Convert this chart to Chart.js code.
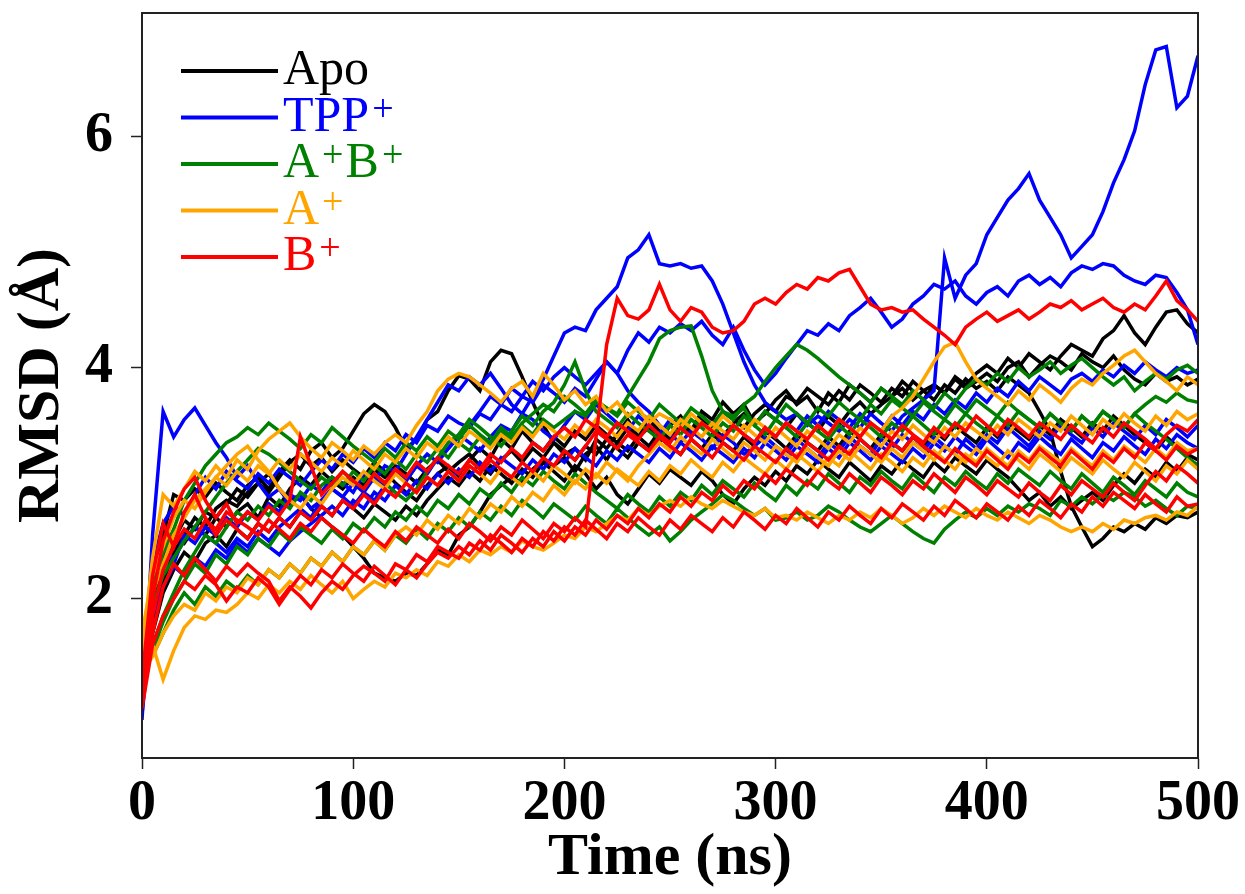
<!DOCTYPE html>
<html>
<head>
<meta charset="utf-8">
<script src="https://cdn.jsdelivr.net/npm/chart.js@4.4.1/dist/chart.umd.min.js"></script>
<style>
  html, body { margin: 0; padding: 0; background: #fff; }
  #wrap { width: 1245px; height: 894px; }
</style>
</head>
<body>
<div id="wrap"><canvas id="rmsd" width="1245" height="894"></canvas></div>
<script>
// time axis (ns), one frame every 5 ns
const TIME = [
  0, 5, 10, 15, 20, 25, 30, 35, 40, 45,
  50, 55, 60, 65, 70, 75, 80, 85, 90, 95,
  100, 105, 110, 115, 120, 125, 130, 135, 140, 145,
  150, 155, 160, 165, 170, 175, 180, 185, 190, 195,
  200, 205, 210, 215, 220, 225, 230, 235, 240, 245,
  250, 255, 260, 265, 270, 275, 280, 285, 290, 295,
  300, 305, 310, 315, 320, 325, 330, 335, 340, 345,
  350, 355, 360, 365, 370, 375, 380, 385, 390, 395,
  400, 405, 410, 415, 420, 425, 430, 435, 440, 445,
  450, 455, 460, 465, 470, 475, 480, 485, 490, 495,
  500
];

const X_TICKS = [0, 100, 200, 300, 400, 500];
const Y_TICKS = [2, 4, 6];

// Apo runs
const apo1 = [
  1.30, 2.10, 2.55, 2.90, 2.85, 2.95, 2.88, 3.00, 2.92, 2.85,
  2.98, 3.05, 2.95, 3.10, 3.20, 3.12, 3.28, 3.35, 3.22, 3.30,
  3.45, 3.60, 3.68, 3.62, 3.48, 3.30, 3.38, 3.55, 3.62, 3.80,
  3.93, 3.90, 3.80, 4.05, 4.15, 4.12, 3.92, 3.70, 3.50, 3.35,
  3.25, 3.30, 3.20, 3.38, 3.30, 3.42, 3.55, 3.40, 3.48, 3.35,
  3.50, 3.58, 3.45, 3.62, 3.55, 3.70, 3.60, 3.68, 3.52, 3.60,
  3.72, 3.80, 3.68, 3.75, 3.62, 3.78, 3.70, 3.85, 3.78, 3.70,
  3.82, 3.75, 3.88, 3.80, 3.72, 3.85, 3.78, 3.92, 3.85, 3.95,
  4.02, 3.95, 4.08, 4.00, 4.12, 4.05, 3.98, 4.10, 4.20, 4.15,
  4.10, 4.25, 4.32, 4.45, 4.30, 4.20, 4.35, 4.48, 4.50, 4.38,
  4.30
];
const apo2 = [
  1.20, 1.75, 2.15, 2.40, 2.55, 2.70, 2.62, 2.78, 2.85, 2.80,
  2.92, 3.00, 3.08, 2.95, 2.85, 2.90, 2.78, 2.70, 2.62, 2.55,
  2.45, 2.35, 2.22, 2.18, 2.15, 2.22, 2.20, 2.30, 2.42, 2.38,
  2.55, 2.62, 2.75, 2.90, 2.98, 3.05, 3.00, 3.12, 3.20, 3.15,
  3.22, 3.10, 3.25, 3.32, 3.20, 3.35, 3.28, 3.40, 3.32, 3.45,
  3.38, 3.50, 3.42, 3.55, 3.48, 3.40, 3.52, 3.60, 3.50, 3.62,
  3.55, 3.48, 3.60, 3.52, 3.45, 3.58, 3.50, 3.62, 3.70, 3.60,
  3.68, 3.75, 3.82, 3.72, 3.80, 3.85, 3.78, 3.90, 3.82, 3.88,
  3.95, 3.88, 4.00, 4.05, 3.92, 4.02, 4.10, 4.05, 3.98, 4.12,
  4.05, 4.00, 4.10, 3.98, 3.90, 3.85, 3.95, 3.88, 3.92, 3.85,
  3.90
];
const apo3 = [
  1.10, 1.85, 2.30, 2.50, 2.68, 2.60, 2.75, 2.70, 2.82, 2.95,
  2.88, 3.00, 2.92, 3.05, 3.18, 3.25, 3.15, 3.22, 3.10, 3.20,
  3.12, 3.05, 3.18, 3.10, 3.00, 2.92, 2.85, 2.98, 3.08, 3.15,
  3.05, 3.20, 3.30, 3.22, 3.38, 3.30, 3.45, 3.35, 3.28, 3.40,
  3.32, 3.45, 3.38, 3.50, 3.42, 3.35, 3.48, 3.40, 3.55, 3.45,
  3.38, 3.52, 3.45, 3.58, 3.50, 3.62, 3.55, 3.48, 3.60, 3.68,
  3.62, 3.75, 3.70, 3.82, 3.75, 3.68, 3.80, 3.72, 3.85, 3.78,
  3.70, 3.82, 3.75, 3.88, 3.80, 3.72, 3.85, 3.78, 3.90, 3.82,
  3.88, 3.80, 3.92, 3.85, 3.78, 3.62, 3.45, 3.10, 2.80, 2.62,
  2.45, 2.52, 2.62, 2.58, 2.65, 2.60, 2.70, 2.65, 2.72, 2.70,
  2.75
];
const apo4 = [
  1.40, 2.00, 2.35, 2.55, 2.48, 2.62, 2.55, 2.70, 2.62, 2.75,
  2.82, 2.70, 2.88, 2.80, 2.95, 3.05, 2.98, 3.10, 3.02, 2.95,
  3.05, 2.98, 3.12, 3.05, 3.15, 3.08, 3.00, 3.12, 3.20, 3.10,
  3.18, 3.25, 3.15, 3.08, 3.20, 3.28, 3.18, 3.30, 3.22, 3.35,
  3.28, 3.20, 3.32, 3.25, 3.38, 3.30, 3.22, 3.35, 3.28, 3.40,
  3.32, 3.25, 3.38, 3.30, 3.42, 3.35, 3.28, 3.40, 3.32, 3.45,
  3.38, 3.30, 3.42, 3.35, 3.28, 3.40, 3.32, 3.45, 3.38, 3.30,
  3.42, 3.35, 3.28, 3.40, 3.32, 3.45, 3.38, 3.50, 3.42, 3.35,
  3.48, 3.40, 3.52, 3.45, 3.38, 3.50, 3.42, 3.55, 3.48, 3.40,
  3.52, 3.45, 3.58, 3.50, 3.42, 3.35, 3.28, 3.40, 3.32, 3.25,
  3.20
];
const apo5 = [
  1.25, 1.70, 2.05, 2.25, 2.40, 2.32, 2.48, 2.55, 2.45, 2.60,
  2.52, 2.65, 2.58, 2.70, 2.62, 2.75, 2.68, 2.80, 2.72, 2.85,
  2.78, 2.70, 2.82, 2.75, 2.68, 2.80, 2.72, 2.85, 2.95, 3.05,
  2.98, 3.10, 3.02, 3.15, 3.08, 3.00, 3.12, 3.05, 3.18, 3.10,
  3.02, 3.15, 3.08, 2.95, 3.05, 2.90, 2.82, 2.95, 3.08, 3.00,
  3.12, 3.05, 2.98, 3.10, 3.02, 2.90, 2.82, 2.95, 3.05, 2.98,
  3.10, 3.02, 3.15, 3.08, 3.20, 3.12, 3.05, 3.18, 3.10, 3.02,
  3.15, 3.08, 3.20, 3.12, 3.05, 3.18, 3.10, 3.22, 3.15, 3.08,
  3.20, 3.12, 3.05, 2.95, 2.85, 2.92, 2.80, 2.88, 2.78, 2.85,
  2.92, 2.85, 2.98, 3.08, 3.00, 3.12, 3.05, 3.18, 3.10, 3.22,
  3.15
];

// TPP+ runs
const tpp1 = [
  0.95, 2.55, 3.62, 3.40, 3.55, 3.65, 3.50, 3.35, 3.22, 3.05,
  3.15, 3.00, 2.88, 2.95, 2.82, 2.90, 2.78, 2.85, 2.95, 2.88,
  3.00, 2.92, 3.05, 2.98, 3.10, 3.02, 3.15, 3.25, 3.18, 3.30,
  3.40, 3.50, 3.62, 3.75, 3.68, 3.82, 3.75, 3.88, 3.80, 3.92,
  4.00, 3.92, 3.85, 3.95, 4.05, 3.95, 3.80, 3.70, 3.62, 3.50,
  3.42, 3.35, 3.45, 3.38, 3.30, 3.42, 3.35, 3.25, 3.32, 3.40,
  3.32, 3.25, 3.38, 3.30, 3.22, 3.35, 3.28, 3.40, 3.32, 3.25,
  3.38, 3.30, 3.42, 3.35, 3.28, 3.40, 3.32, 3.25, 3.38, 3.30,
  3.42, 3.35, 3.48, 3.40, 3.32, 3.45, 3.38, 3.50, 3.42, 3.35,
  3.48, 3.40, 3.52, 3.45, 3.38, 3.50, 3.42, 3.55, 3.48, 3.40,
  3.50
];
const tpp2 = [
  1.05, 2.10, 2.45, 2.30, 2.55, 2.48, 2.62, 2.55, 2.70, 2.62,
  2.75, 2.68, 2.82, 2.75, 2.90, 2.85, 2.98, 2.92, 3.05, 3.00,
  2.92, 3.08, 3.02, 3.15, 3.10, 3.25, 3.40, 3.55, 3.70, 3.85,
  3.80, 3.92, 3.85, 3.95, 3.82, 3.68, 3.60, 3.75, 3.90, 4.10,
  4.30, 4.35, 4.32, 4.50, 4.60, 4.70, 4.95, 5.02, 5.15, 4.90,
  4.88, 4.90, 4.86, 4.88, 4.75, 4.55, 4.30, 4.05, 3.85, 3.70,
  3.62, 3.55, 3.60, 3.50, 3.58, 3.52, 3.45, 3.55, 3.48, 3.60,
  3.52, 3.45, 3.58, 3.65, 3.72, 3.80, 4.95, 4.60, 4.80, 4.90,
  5.15, 5.30, 5.45, 5.55, 5.68, 5.45, 5.30, 5.15, 4.95, 5.05,
  5.15, 5.35, 5.60, 5.80, 6.05, 6.45, 6.75, 6.78, 6.25, 6.35,
  6.70
];
const tpp3 = [
  1.15, 2.30, 2.65, 2.80, 2.72, 2.90, 3.05, 2.95, 3.10, 3.02,
  2.95, 3.08, 3.00, 3.12, 3.05, 2.98, 3.10, 3.20, 3.12, 3.25,
  3.18, 3.30, 3.22, 3.35, 3.28, 3.42, 3.35, 3.50, 3.45, 3.58,
  3.52, 3.48, 3.60, 3.55, 3.68, 3.62, 3.75, 3.70, 3.85, 3.78,
  3.70, 3.82, 3.75, 3.90, 4.05, 3.95, 4.15, 4.30, 4.22, 4.35,
  4.30, 4.38, 4.32, 4.40, 4.28, 4.20, 4.35, 4.15, 3.98, 3.85,
  3.95, 4.08, 4.20, 4.32, 4.28, 4.38, 4.32, 4.45, 4.52, 4.60,
  4.48, 4.35, 4.42, 4.55, 4.62, 4.72, 4.68, 4.75, 4.62, 4.55,
  4.65, 4.70, 4.62, 4.75, 4.80, 4.72, 4.78, 4.70, 4.82, 4.88,
  4.85, 4.90, 4.88, 4.80, 4.75, 4.72, 4.80, 4.78, 4.65, 4.50,
  4.20
];
const tpp4 = [
  1.35, 2.20, 2.42, 2.35, 2.50, 2.62, 2.55, 2.48, 2.40, 2.52,
  2.45, 2.58, 2.50, 2.62, 2.70, 2.78, 2.70, 2.85, 2.95, 2.88,
  2.80, 2.92, 2.85, 2.98, 3.10, 3.02, 3.15, 3.08, 3.22, 3.30,
  3.42, 3.35, 3.28, 3.40, 3.50, 3.45, 3.60, 3.55, 3.45, 3.38,
  3.50, 3.62, 3.55, 3.68, 3.60, 3.52, 3.45, 3.58, 3.50, 3.42,
  3.55, 3.48, 3.40, 3.52, 3.45, 3.38, 3.50, 3.42, 3.35, 3.48,
  3.40, 3.52, 3.45, 3.58, 3.50, 3.62, 3.55, 3.48, 3.60, 3.52,
  3.45, 3.58, 3.50, 3.62, 3.55, 3.68, 3.60, 3.72, 3.65, 3.78,
  3.70, 3.82, 3.75, 3.88, 3.80, 3.92, 3.85, 3.78, 3.90, 3.95,
  3.88, 3.98, 3.92, 4.02, 3.95, 4.05, 3.98, 3.92, 4.00, 3.95,
  3.98
];
const tpp5 = [
  1.00, 1.85, 2.10, 2.28, 2.20, 2.35, 2.28, 2.42, 2.35, 2.48,
  2.40, 2.52, 2.45, 2.38, 2.50, 2.58, 2.65, 2.72, 2.80, 2.72,
  2.85, 2.78, 2.92, 2.85, 2.98, 2.90, 3.02, 2.95, 3.08, 3.00,
  3.12, 3.05, 3.18, 3.10, 3.22, 3.15, 3.08, 3.20, 3.12, 3.25,
  3.18, 3.30, 3.22, 3.15, 3.28, 3.20, 3.32, 3.25, 3.18, 3.30,
  3.22, 3.35, 3.28, 3.20, 3.32, 3.25, 3.18, 3.30, 3.22, 3.35,
  3.28, 3.20, 3.32, 3.25, 3.18, 3.30, 3.22, 3.35, 3.28, 3.20,
  3.32, 3.25, 3.18, 3.30, 3.22, 3.35, 3.28, 3.40, 3.32, 3.25,
  3.38, 3.30, 3.22, 3.35, 3.28, 3.40, 3.32, 3.25, 3.38, 3.30,
  3.22, 3.35, 3.28, 3.40, 3.32, 3.25, 3.38, 3.30, 3.42, 3.35,
  3.30
];

// A+B+ runs
const ab1 = [
  1.35, 1.60, 1.85, 2.05, 2.25, 2.40, 2.55, 2.48, 2.62, 2.75,
  2.68, 2.80, 2.72, 2.85, 2.78, 2.92, 2.85, 2.98, 3.05, 2.98,
  3.10, 3.02, 3.15, 3.08, 3.20, 3.12, 3.25, 3.18, 3.30, 3.22,
  3.35, 3.28, 3.40, 3.32, 3.45, 3.38, 3.50, 3.42, 3.55, 3.48,
  3.55, 3.62, 3.58, 3.70, 3.65, 3.60, 3.75, 3.90, 4.05, 4.25,
  4.32, 4.35, 4.36, 4.10, 3.80, 3.62, 3.58, 3.65, 3.50, 3.42,
  3.55, 3.48, 3.40, 3.52, 3.45, 3.38, 3.50, 3.42, 3.55, 3.48,
  3.40, 3.52, 3.45, 3.58, 3.50, 3.42, 3.55, 3.48, 3.60, 3.52,
  3.45, 3.58, 3.50, 3.62, 3.55, 3.48, 3.60, 3.52, 3.45, 3.58,
  3.50, 3.62, 3.55, 3.48, 3.60, 3.52, 3.45, 3.38, 3.30, 3.22,
  3.15
];
const ab2 = [
  1.50, 2.10, 2.40, 2.60, 2.85, 3.00, 3.15, 3.25, 3.35, 3.40,
  3.48, 3.42, 3.52, 3.45, 3.38, 3.30, 3.42, 3.35, 3.48, 3.40,
  3.32, 3.25, 3.18, 3.30, 3.22, 3.35, 3.28, 3.40, 3.32, 3.45,
  3.38, 3.50, 3.42, 3.35, 3.48, 3.40, 3.52, 3.60, 3.68, 3.62,
  3.75, 3.68, 3.60, 3.72, 3.65, 3.58, 3.70, 3.62, 3.55, 3.68,
  3.60, 3.52, 3.65, 3.58, 3.50, 3.62, 3.55, 3.68, 3.75, 3.88,
  4.00, 4.10, 4.20, 4.15, 4.08, 4.00, 3.92, 3.85, 3.78, 3.70,
  3.82, 3.75, 3.68, 3.80, 3.72, 3.65, 3.78, 3.70, 3.82, 3.90,
  3.85, 3.95, 3.88, 4.00, 3.92, 3.98, 4.05, 3.95, 4.02, 4.08,
  4.00, 3.92, 3.85, 3.92, 3.80, 3.88, 3.95, 3.90, 3.98, 4.02,
  3.95
];
const ab3 = [
  1.45, 1.50, 1.70, 1.90, 2.05, 1.95, 2.10, 2.02, 2.15, 2.08,
  2.20, 2.12, 2.25, 2.18, 2.30, 2.22, 2.35, 2.28, 2.40, 2.32,
  2.45, 2.38, 2.50, 2.42, 2.55, 2.48, 2.60, 2.52, 2.65, 2.58,
  2.70, 2.62, 2.75, 2.68, 2.80, 2.72, 2.85, 2.78, 2.70, 2.82,
  2.75, 2.68, 2.80, 2.72, 2.65, 2.78, 2.70, 2.62, 2.55, 2.62,
  2.50, 2.58, 2.68, 2.75, 2.82, 2.90, 2.85, 2.78, 2.72, 2.78,
  2.68, 2.70, 2.75, 2.68, 2.72, 2.80, 2.75, 2.68, 2.62, 2.58,
  2.65, 2.72, 2.65, 2.58, 2.52, 2.48, 2.60, 2.68, 2.75, 2.70,
  2.78, 2.72, 2.80, 2.75, 2.82, 2.78, 2.72, 2.85, 2.80, 2.88,
  2.82, 2.90, 2.85, 2.92, 2.88, 2.80, 2.85, 2.78, 2.72, 2.80,
  2.78
];
const ab4 = [
  1.60, 1.95, 2.20, 2.35, 2.50, 2.62, 2.75, 2.88, 3.00, 3.10,
  3.20, 3.30, 3.25, 3.18, 3.10, 3.02, 2.95, 3.05, 2.98, 3.10,
  3.02, 2.95, 3.08, 3.00, 2.92, 2.85, 2.95, 3.10, 3.22, 3.35,
  3.42, 3.55, 3.48, 3.40, 3.32, 3.45, 3.58, 3.50, 3.62, 3.70,
  3.85, 4.05, 3.80, 3.62, 3.55, 3.48, 3.60, 3.52, 3.45, 3.38,
  3.50, 3.42, 3.55, 3.48, 3.40, 3.52, 3.45, 3.58, 3.50, 3.62,
  3.55, 3.68, 3.60, 3.52, 3.65, 3.58, 3.70, 3.62, 3.55, 3.68,
  3.60, 3.72, 3.65, 3.58, 3.70, 3.62, 3.55, 3.68, 3.60, 3.72,
  3.65, 3.58, 3.70, 3.62, 3.55, 3.48, 3.60, 3.52, 3.45, 3.58,
  3.50, 3.62, 3.55, 3.48, 3.60, 3.68, 3.75, 3.70, 3.78, 3.72,
  3.70
];
const ab5 = [
  1.40, 1.55, 1.80, 2.00, 2.15, 2.30, 2.22, 2.38, 2.30, 2.45,
  2.38, 2.52, 2.45, 2.58, 2.50, 2.62, 2.55, 2.48, 2.60, 2.52,
  2.65, 2.58, 2.70, 2.62, 2.75, 2.68, 2.80, 2.72, 2.85, 2.78,
  2.90, 2.82, 2.95, 2.88, 3.00, 2.92, 3.05, 2.98, 3.10, 3.02,
  2.95, 3.08, 3.00, 2.92, 2.85, 2.78, 2.90, 2.82, 2.75, 2.88,
  2.80, 2.92, 2.85, 2.98, 2.90, 3.02, 2.95, 2.88, 3.00, 2.92,
  2.85, 2.98, 2.90, 3.02, 2.95, 3.08, 3.00, 2.92, 3.05, 2.98,
  3.10, 3.02, 2.95, 3.08, 3.00, 2.92, 3.05, 2.98, 3.10, 3.02,
  2.95, 3.08, 3.00, 3.12, 3.05, 2.98, 3.10, 3.02, 2.95, 3.08,
  3.00, 2.92, 3.05, 2.98, 2.90, 3.02, 2.95, 2.88, 3.00, 2.92,
  2.88
];

// A+ runs
const a1 = [
  1.55, 2.35, 2.90, 2.80, 2.95, 3.10, 3.02, 3.15, 3.05, 3.20,
  3.12, 3.28, 3.38, 3.45, 3.52, 3.40, 3.30, 3.22, 3.35, 3.28,
  3.20, 3.32, 3.25, 3.35, 3.42, 3.35, 3.50, 3.62, 3.80, 3.90,
  3.95, 3.92, 3.85, 3.78, 3.70, 3.82, 3.88, 3.75, 3.95, 3.85,
  3.72, 3.80, 3.68, 3.75, 3.62, 3.70, 3.58, 3.65, 3.52, 3.60,
  3.55, 3.48, 3.60, 3.52, 3.45, 3.58, 3.50, 3.42, 3.55, 3.48,
  3.40, 3.52, 3.45, 3.38, 3.50, 3.42, 3.55, 3.48, 3.40, 3.52,
  3.45, 3.58, 3.65, 3.75, 3.90, 4.05, 4.18, 4.22, 4.05, 3.90,
  3.82, 3.75, 3.68, 3.80, 3.72, 3.85, 3.78, 3.70, 3.82, 3.90,
  3.85, 3.95, 4.02, 4.10, 4.15, 4.05, 3.95, 3.88, 3.80, 3.92,
  3.85
];
const a2 = [
  1.45, 1.60, 1.30, 1.55, 1.75, 1.85, 1.82, 1.90, 1.88, 1.95,
  2.05, 2.00, 2.12, 2.05, 2.15, 2.08, 2.20, 2.12, 2.05, 2.15,
  2.00, 2.08, 2.15, 2.10, 2.22, 2.18, 2.25, 2.20, 2.32, 2.28,
  2.38, 2.32, 2.42, 2.38, 2.45, 2.40, 2.50, 2.45, 2.42, 2.48,
  2.55, 2.52, 2.62, 2.58, 2.65, 2.72, 2.68, 2.78, 2.72, 2.80,
  2.85, 2.80, 2.88, 2.82, 2.78, 2.85, 2.80, 2.75, 2.72, 2.78,
  2.70, 2.72, 2.68, 2.75, 2.70, 2.65, 2.72, 2.68, 2.75, 2.70,
  2.78, 2.72, 2.65, 2.70, 2.78, 2.72, 2.80, 2.75, 2.70, 2.78,
  2.72, 2.68, 2.75, 2.70, 2.65, 2.72, 2.68, 2.62, 2.58, 2.62,
  2.58, 2.65, 2.60, 2.68, 2.65, 2.70, 2.72, 2.68, 2.75, 2.72,
  2.80
];
const a3 = [
  1.70, 2.20, 2.45, 2.70, 2.85, 2.78, 2.92, 3.05, 2.98, 3.10,
  3.02, 3.15, 3.08, 3.20, 3.12, 3.25, 3.18, 3.10, 3.22, 3.15,
  3.28, 3.20, 3.12, 3.25, 3.18, 3.30, 3.22, 3.35, 3.28, 3.40,
  3.32, 3.45, 3.38, 3.30, 3.42, 3.35, 3.48, 3.40, 3.52, 3.45,
  3.38, 3.50, 3.42, 3.55, 3.48, 3.40, 3.52, 3.45, 3.58, 3.50,
  3.42, 3.55, 3.48, 3.40, 3.52, 3.45, 3.38, 3.50, 3.42, 3.35,
  3.48, 3.40, 3.32, 3.45, 3.38, 3.30, 3.42, 3.35, 3.48, 3.40,
  3.32, 3.45, 3.38, 3.50, 3.42, 3.35, 3.48, 3.40, 3.52, 3.45,
  3.38, 3.50, 3.42, 3.55, 3.48, 3.40, 3.52, 3.45, 3.58, 3.50,
  3.42, 3.55, 3.48, 3.60, 3.52, 3.45, 3.58, 3.50, 3.62, 3.55,
  3.60
];
const a4 = [
  1.35, 1.50, 1.70, 1.85, 1.95, 1.90, 2.05, 1.98, 2.10, 2.05,
  2.18, 2.12, 2.25, 2.18, 2.30, 2.22, 2.35, 2.28, 2.40, 2.32,
  2.45, 2.38, 2.50, 2.42, 2.55, 2.62, 2.55, 2.68, 2.60, 2.72,
  2.65, 2.78, 2.70, 2.82, 2.75, 2.88, 2.80, 2.92, 2.85, 2.98,
  2.90, 3.02, 2.95, 3.08, 3.00, 3.12, 3.05, 2.98, 3.10, 3.02,
  3.15, 3.08, 3.20, 3.12, 3.05, 3.18, 3.10, 3.22, 3.15, 3.08,
  3.20, 3.12, 3.25, 3.18, 3.10, 3.22, 3.15, 3.28, 3.20, 3.12,
  3.25, 3.18, 3.10, 3.22, 3.15, 3.28, 3.20, 3.12, 3.25, 3.18,
  3.30, 3.22, 3.15, 3.28, 3.20, 3.32, 3.25, 3.18, 3.30, 3.22,
  3.15, 3.28, 3.20, 3.32, 3.25, 3.18, 3.30, 3.22, 3.35, 3.28,
  3.30
];
const a5 = [
  1.50, 2.05, 2.30, 2.55, 2.70, 2.85, 2.95, 3.05, 3.15, 3.25,
  3.32, 3.20, 3.10, 2.95, 2.85, 2.78, 2.90, 2.82, 2.95, 3.05,
  2.98, 3.10, 3.02, 2.95, 3.08, 3.00, 2.92, 3.05, 2.98, 3.10,
  3.02, 3.15, 3.08, 3.00, 3.12, 3.05, 2.98, 3.10, 3.02, 3.15,
  3.08, 3.00, 3.12, 3.05, 3.18, 3.10, 3.02, 3.15, 3.25, 3.35,
  3.28, 3.40, 3.32, 3.25, 3.38, 3.30, 3.22, 3.35, 3.28, 3.20,
  3.32, 3.25, 3.18, 3.30, 3.22, 3.15, 3.28, 3.20, 3.32, 3.25,
  3.18, 3.30, 3.22, 3.35, 3.28, 3.20, 3.32, 3.25, 3.18, 3.30,
  3.22, 3.15, 3.28, 3.20, 3.12, 3.25, 3.18, 3.10, 3.22, 3.15,
  3.08, 3.20, 3.12, 3.05, 3.18, 3.10, 3.02, 3.15, 3.08, 3.20,
  3.12
];

// B+ runs
const b1 = [
  1.10, 1.85, 2.25, 2.45, 2.60, 2.52, 2.68, 2.60, 2.75, 2.68,
  2.62, 2.55, 2.68, 2.60, 2.52, 2.65, 2.58, 2.70, 2.62, 2.55,
  2.48, 2.60, 2.52, 2.45, 2.58, 2.50, 2.62, 2.55, 2.48, 2.60,
  2.52, 2.65, 2.58, 2.50, 2.62, 2.55, 2.68, 2.60, 2.52, 2.65,
  2.58, 2.70, 2.62, 3.40, 4.20, 4.60, 4.45, 4.42, 4.50, 4.72,
  4.50, 4.40, 4.52, 4.48, 4.35, 4.30, 4.32, 4.40, 4.55, 4.60,
  4.55, 4.65, 4.72, 4.68, 4.78, 4.75, 4.82, 4.85, 4.70, 4.55,
  4.50, 4.52, 4.48, 4.50, 4.42, 4.35, 4.28, 4.20, 4.35, 4.42,
  4.48, 4.40, 4.45, 4.50, 4.42, 4.48, 4.55, 4.52, 4.58, 4.50,
  4.55, 4.60, 4.52, 4.48, 4.55, 4.50, 4.62, 4.75, 4.58, 4.50,
  4.40
];
const b2 = [
  1.20, 2.00, 2.50, 2.75, 2.95, 3.05, 2.85, 2.70, 2.82, 2.65,
  2.75, 2.68, 2.80, 2.72, 2.85, 3.40, 3.15, 2.90, 3.00, 3.10,
  3.02, 2.95, 3.08, 3.00, 3.12, 3.05, 3.18, 3.10, 3.22, 3.15,
  3.08, 3.20, 3.12, 3.25, 3.18, 3.30, 3.22, 3.35, 3.28, 3.40,
  3.48, 3.40, 3.55, 3.48, 3.40, 3.52, 3.45, 3.38, 3.50, 3.42,
  3.35, 3.48, 3.40, 3.52, 3.45, 3.38, 3.50, 3.42, 3.35, 3.48,
  3.40, 3.52, 3.45, 3.38, 3.50, 3.42, 3.55, 3.48, 3.40, 3.52,
  3.45, 3.38, 3.50, 3.42, 3.35, 3.48, 3.40, 3.52, 3.45, 3.58,
  3.50, 3.42, 3.55, 3.48, 3.40, 3.52, 3.45, 3.38, 3.50, 3.42,
  3.35, 3.48, 3.40, 3.52, 3.45, 3.38, 3.30, 3.42, 3.50, 3.45,
  3.55
];
const b3 = [
  1.05, 1.60, 1.85, 2.00, 2.15, 2.08, 2.20, 2.12, 1.98, 2.10,
  2.05, 2.18, 2.10, 1.95, 2.08, 2.20, 2.12, 2.25, 2.18, 2.30,
  2.22, 2.15, 2.28, 2.20, 2.12, 2.25, 2.18, 2.30, 2.40, 2.35,
  2.45, 2.38, 2.50, 2.42, 2.55, 2.48, 2.40, 2.52, 2.45, 2.58,
  2.50, 2.62, 2.55, 2.68, 2.60, 2.72, 2.65, 2.78, 2.70, 2.82,
  2.75, 2.88, 2.80, 2.92, 2.85, 2.98, 2.90, 3.02, 2.95, 3.08,
  3.00, 3.12, 3.05, 2.98, 3.10, 3.02, 2.95, 3.08, 3.00, 2.92,
  3.05, 2.98, 2.90, 3.02, 2.95, 3.08, 3.00, 2.92, 3.05, 2.98,
  2.90, 3.02, 2.95, 2.88, 3.00, 2.92, 2.85, 2.98, 2.90, 3.02,
  2.95, 2.88, 3.00, 2.92, 2.85, 2.98, 3.10, 3.02, 3.15, 3.08,
  3.00
];
const b4 = [
  1.15, 1.70, 2.10, 2.30, 2.20, 2.35, 2.25, 2.15, 2.28, 2.20,
  2.30, 2.22, 2.15, 1.98, 2.10, 2.02, 1.92, 2.05, 2.15, 2.08,
  2.20, 2.28, 2.22, 2.15, 2.30, 2.25, 2.38, 2.32, 2.45, 2.40,
  2.35, 2.48, 2.42, 2.55, 2.48, 2.40, 2.52, 2.45, 2.58, 2.50,
  2.62, 2.55, 2.68, 2.60, 2.52, 2.65, 2.58, 2.70, 2.62, 2.55,
  2.68, 2.60, 2.72, 2.65, 2.58, 2.70, 2.62, 2.75, 2.68, 2.60,
  2.72, 2.65, 2.78, 2.70, 2.62, 2.75, 2.68, 2.80, 2.72, 2.65,
  2.78, 2.70, 2.82, 2.75, 2.68, 2.80, 2.72, 2.85, 2.78, 2.70,
  2.82, 2.75, 2.68, 2.80, 2.72, 2.85, 2.78, 2.70, 2.82, 2.75,
  2.88, 2.80, 2.92, 2.85, 2.78, 2.90, 2.82, 2.75, 2.88, 2.80,
  2.82
];
const b5 = [
  1.30, 2.20, 2.65, 2.45, 2.75, 2.90, 2.70, 2.55, 2.68, 2.60,
  2.52, 2.65, 2.58, 2.70, 2.62, 2.75, 2.68, 2.80, 2.72, 2.85,
  2.78, 2.90, 2.82, 2.95, 2.88, 3.00, 2.92, 3.05, 2.98, 3.10,
  3.02, 3.15, 3.08, 3.20, 3.12, 3.05, 3.18, 3.10, 3.22, 3.15,
  3.28, 3.20, 3.32, 3.45, 3.38, 3.30, 3.42, 3.35, 3.28, 3.40,
  3.32, 3.25, 3.38, 3.30, 3.22, 3.35, 3.28, 3.20, 3.32, 3.25,
  3.18, 3.30, 3.22, 3.35, 3.28, 3.20, 3.32, 3.25, 3.38, 3.30,
  3.22, 3.35, 3.28, 3.40, 3.32, 3.25, 3.18, 3.30, 3.22, 3.15,
  3.28, 3.20, 3.12, 3.25, 3.18, 3.30, 3.22, 3.15, 3.28, 3.20,
  3.12, 3.25, 3.18, 3.30, 3.22, 3.35, 3.28, 3.20, 3.32, 3.25,
  3.30
];

const GROUP_LABELS = ['Apo', 'TPP^+', 'A^+B^+', 'A^+', 'B^+'];  // '^' = superscript next char
const GROUP_COLORS = ['#000000', '#0000ff', '#008000', '#ffa500', '#ff0000'];
const GROUP_RUNS = [
  [apo1, apo2, apo3, apo4, apo5],
  [tpp1, tpp2, tpp3, tpp4, tpp5],
  [ab1, ab2, ab3, ab4, ab5],
  [a1, a2, a3, a4, a5],
  [b1, b2, b3, b4, b5]
];

const SERIF = "'Liberation Serif', 'DejaVu Serif', serif";
const AXIS_COLOR = '#222';

const datasets = [];
GROUP_RUNS.forEach((runs, g) => {
  runs.forEach((run, r) => {
    datasets.push({
      label: GROUP_LABELS[g] + ' ' + (r + 1),
      data: run,
      borderColor: GROUP_COLORS[g],
      borderWidth: 3.5,
      pointRadius: 0,
      fill: false,
      tension: 0,
      order: GROUP_RUNS.length - g   // later groups on top, like matplotlib
    });
  });
});

// box around the plot (matplotlib spines)
const frame = {
  id: 'frame',
  afterDatasetsDraw(chart) {
    const { ctx, chartArea: a } = chart;
    ctx.save();
    ctx.strokeStyle = AXIS_COLOR;
    ctx.lineWidth = 2;
    ctx.strokeRect(a.left, a.top, a.right - a.left, a.bottom - a.top);
    ctx.restore();
  }
};

// legend in the upper-left corner, text coloured like its line
const lineLegend = {
  id: 'lineLegend',
  afterDraw(chart) {
    const { ctx, chartArea: a } = chart;
    ctx.save();
    ctx.textBaseline = 'alphabetic';
    ctx.textAlign = 'left';
    GROUP_LABELS.forEach((label, i) => {
      const y = a.top + 58 + i * 46.5;
      const x0 = a.left + 39;
      ctx.strokeStyle = GROUP_COLORS[i];
      ctx.fillStyle = GROUP_COLORS[i];
      ctx.lineWidth = 4;
      ctx.beginPath();
      ctx.moveTo(x0, y);
      ctx.lineTo(x0 + 97, y);
      ctx.stroke();
      let x = x0 + 102;
      label.split(/(\^.)/).filter(Boolean).forEach(part => {
        if (part[0] === '^') {
          ctx.font = '38px ' + SERIF;
          x += 3;
          ctx.fillText(part[1], x, y + 3);
          x += ctx.measureText(part[1]).width + 2;
        } else {
          ctx.font = '50px ' + SERIF;
          ctx.fillText(part, x, y + 13);
          x += ctx.measureText(part).width;
        }
      });
    });
    ctx.restore();
  }
};

new Chart(document.getElementById('rmsd'), {
  type: 'line',
  data: { labels: TIME, datasets },
  options: {
    responsive: false,
    animation: false,
    layout: { padding: { top: 13, right: 47, bottom: 0, left: 0 } },
    plugins: {
      legend: { display: false },
      tooltip: { enabled: false }
    },
    scales: {
      x: {
        type: 'linear',
        min: 0,
        max: 500,
        afterBuildTicks: axis => { axis.ticks = X_TICKS.map(v => ({ value: v })); },
        afterFit: axis => { axis.height = 136; axis.paddingLeft = 0; axis.paddingRight = 0; },
        ticks: {
          color: '#000',
          padding: 2,
          maxRotation: 0,
          font: { family: SERIF, size: 56, weight: 'bold' }
        },
        grid: { drawOnChartArea: false, drawTicks: true, tickLength: 11, tickWidth: 1.5, tickColor: AXIS_COLOR },
        border: { display: true, color: AXIS_COLOR, width: 2 },
        title: {
          display: true,
          text: 'Time (ns)',
          color: '#000',
          padding: { top: 0, bottom: 0 },
          font: { family: SERIF, size: 60, weight: 'bold' }
        }
      },
      y: {
        min: 0.62,
        max: 7.07,
        afterBuildTicks: axis => { axis.ticks = Y_TICKS.map(v => ({ value: v })); },
        afterFit: axis => { axis.width = 142; axis.paddingTop = 0; axis.paddingBottom = 0; },
        ticks: {
          color: '#000',
          padding: 18,
          font: { family: SERIF, size: 56, weight: 'bold' }
        },
        grid: { drawOnChartArea: false, drawTicks: true, tickLength: 11, tickWidth: 1.5, tickColor: AXIS_COLOR },
        border: { display: true, color: AXIS_COLOR, width: 2 },
        title: {
          display: true,
          text: 'RMSD (Å)',
          color: '#000',
          padding: { top: 6, bottom: 0 },
          font: { family: SERIF, size: 60, weight: 'bold' }
        }
      }
    }
  },
  plugins: [frame, lineLegend]
});
</script>
</body>
</html>
